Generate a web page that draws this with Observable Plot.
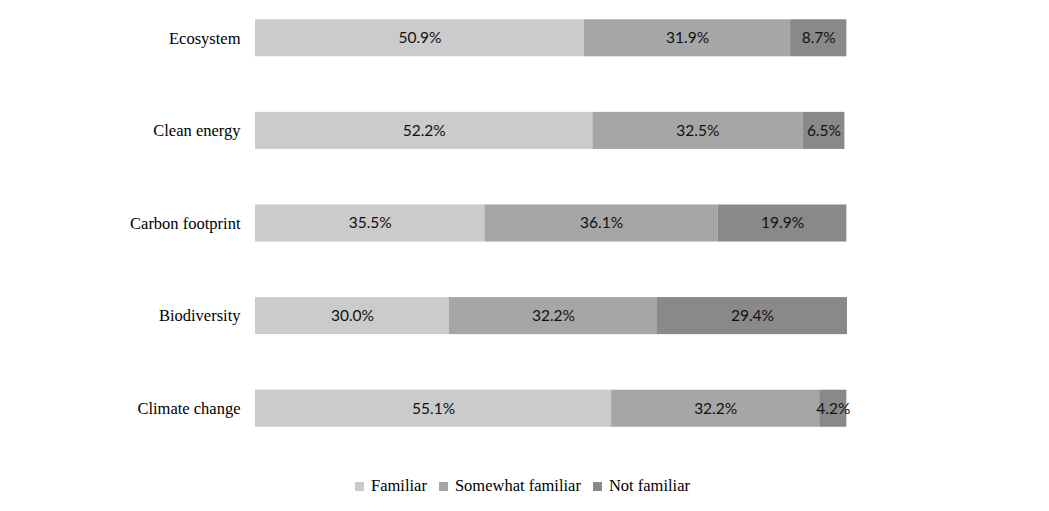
<!DOCTYPE html>
<html>
<head>
<meta charset="utf-8">
<script src="https://cdn.jsdelivr.net/npm/d3@7"></script>
<script src="https://cdn.jsdelivr.net/npm/@observablehq/plot@0.6"></script>
<style>
  body { margin: 0; background: #fff; }
  #legend { display: flex; justify-content: center; font-family: "Liberation Serif", serif; font-size: 16.5px; color: #000; margin-top: 31px; padding-right: 4px; }
  #legend .item { display: flex; align-items: center; margin: 0 6px; }
  #legend .sw { width: 9px; height: 9px; margin-right: 7px; }
</style>
</head>
<body>
<div id="chart"></div>
<div id="legend"></div>
<script>
const categories = ["Ecosystem", "Clean energy", "Carbon footprint", "Biodiversity", "Climate change"];
const familiar = [50.9, 52.2, 35.5, 30.0, 55.1];
const somewhat = [31.9, 32.5, 36.1, 32.2, 32.2];
const notFamiliar = [8.7, 6.5, 19.9, 29.4, 4.2];
const seriesNames = ["Familiar", "Somewhat familiar", "Not familiar"];
const colors = ["#cbcbcb", "#a6a6a6", "#898989"];

const seriesValues = [familiar, somewhat, notFamiliar];
const data = [];
categories.forEach((c, i) => {
  seriesNames.forEach((s, j) => {
    data.push({category: c, series: s, value: seriesValues[j][i]});
  });
});

const chart = Plot.plot({
  width: 1049,
  height: 445,
  marginLeft: 255,
  marginRight: 202,
  marginTop: 10,
  marginBottom: 9,
  x: {domain: [0, 91.6], axis: null},
  y: {domain: categories, padding: 0.6, paddingOuter: 0.1, round: false, label: null, tickSize: 0, tickPadding: 15},
  color: {domain: seriesNames, range: colors},
  style: {fontFamily: "Liberation Serif, serif", fontSize: "16.5px", color: "#000"},
  marks: [
    Plot.barX(data, Plot.stackX({y: "category", x: "value", fill: "series", order: seriesNames})),
    Plot.text(data, Plot.stackX({y: "category", x: "value", z: "series", order: seriesNames,
      text: d => d.value.toFixed(1) + "%", fill: "#111", fontFamily: "Lato, sans-serif", fontSize: 15.5}))
  ]
});
document.getElementById("chart").appendChild(chart);

const legend = document.getElementById("legend");
seriesNames.forEach((s, j) => {
  const item = document.createElement("div");
  item.className = "item";
  const sw = document.createElement("span");
  sw.className = "sw";
  sw.style.background = colors[j];
  item.appendChild(sw);
  item.appendChild(document.createTextNode(s));
  legend.appendChild(item);
});
</script>
</body>
</html>
